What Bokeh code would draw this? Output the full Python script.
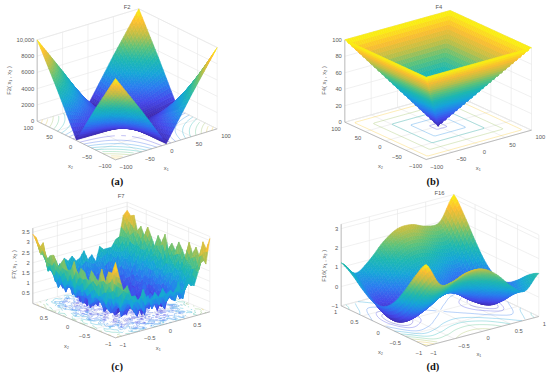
import numpy as np
from bokeh.core.properties import value
from bokeh.embed import file_html
from bokeh.layouts import column, row
from bokeh.models import Range1d
from bokeh.plotting import figure
from bokeh.resources import INLINE

# all surface tables: one row per x1 value, one column per x2 value
f2_x1 = [-100, -50, 0, 50, 100]
f2_x2 = [-100, -50, 0, 50, 100]
f2_z = [
    [10000, 5200, 100, 5200, 10000],
    [5200, 2600, 50, 2600, 5200],
    [100, 50, 0, 50, 100],
    [5200, 2600, 50, 2600, 5200],
    [10000, 5200, 100, 5200, 10000],
]
f4_x1 = [-100, 0, 100]
f4_x2 = [-100, 0, 100]
f4_z = [
    [100, 100, 100],
    [100, 0, 100],
    [100, 100, 100],
]
f16_x1 = [-1, -0.75, -0.5, -0.25, 0, 0.25, 0.5, 0.75, 1]
f16_x2 = [-1, -0.75, -0.5, -0.25, 0, 0.25, 0.5, 0.75, 1]
f16_z = [
    [3.23, 2.39, 1.37, 0.49, 0.00, -0.01, 0.37, 0.89, 1.23],
    [2.00, 1.22, 0.26, -0.55, -0.98, -0.93, -0.49, 0.10, 0.50],
    [1.98, 1.27, 0.37, -0.39, -0.75, -0.63, -0.13, 0.52, 0.98],
    [2.25, 1.60, 0.77, 0.07, -0.23, -0.05, 0.52, 1.22, 1.75],
    [2.23, 1.64, 0.87, 0.24, 0.00, 0.24, 0.87, 1.64, 2.23],
    [1.75, 1.22, 0.52, -0.05, -0.23, 0.07, 0.77, 1.60, 2.25],
    [0.98, 0.52, -0.13, -0.63, -0.75, -0.39, 0.37, 1.27, 1.98],
    [0.50, 0.10, -0.49, -0.93, -0.98, -0.55, 0.26, 1.22, 2.00],
    [1.23, 0.89, 0.37, -0.01, 0.00, 0.49, 1.37, 2.39, 3.23],
]
f7_x1_lim = (-1, 0.92)
f7_x2_lim = (-1, 0.95)
f7_z = [
    [3.7,3.1,3.1,2.5,3.1,2.4,2.6,2.8,2.1,2.6,2.7,2.2,2.9,2.4,2.3,2.8,2.5,2.1,2.8,2.7,2.4,3.2,2.9,3.3,3.4],
    [2.9,2.9,2.1,2.3,1.9,2.4,1.6,1.8,2.1,1.9,1.6,2.2,2.0,1.5,2.3,1.7,2.1,1.8,2.3,1.7,2.1,2.0,2.8,2.5,3.0],
    [2.2,2.3,2.3,1.6,1.9,1.2,1.5,1.8,1.4,1.2,1.9,1.6,1.3,1.7,1.1,1.8,1.5,1.2,1.6,2.0,1.5,2.0,1.8,2.5,2.3],
    [2.4,1.7,1.2,1.7,1.2,1.6,.9,1.3,1.1,1.4,.9,.7,1.5,1.0,1.3,.8,1.2,1.5,1.0,1.3,.9,1.8,1.7,1.5,2.3],
    [1.8,2.0,1.5,.9,1.4,1.0,.6,1.1,.7,1.3,1.0,.6,.8,1.2,.5,.9,1.3,.7,1.2,.7,1.4,1.1,1.0,1.7,1.9],
    [1.8,1.1,1.5,1.1,.5,1.3,.6,.7,.9,.4,1.0,.7,.8,.3,1.1,.5,.4,1.0,.7,1.2,.9,.7,1.5,1.2,1.9],
    [1.4,1.5,1.0,1.3,.9,.4,1.0,.3,.6,.8,.3,1.0,.4,.7,.9,.2,.5,1.1,.4,.7,1.0,.7,1.2,1.7,1.3],
    [2.0,1.2,.6,1.0,1.1,.5,.6,1.0,.3,.7,.5,.2,.9,.6,.3,1.0,.8,.4,.7,.3,1.1,.9,.7,1.5,1.5],
    [1.5,.8,1.2,.7,1.1,.8,.3,.5,.8,.1,.5,.7,.2,.9,.4,.6,.1,.8,.4,.8,.4,1.0,1.4,1.1,1.8],
    [1.2,1.5,.9,1.0,.3,.6,1.0,.3,.6,.2,.8,.1,.5,.7,.3,.9,.4,.2,.7,.9,.3,.8,.8,1.6,1.6],
    [1.7,1.0,1.4,.4,.8,.9,.3,.5,.4,.9,.3,.6,.1,.4,.8,.2,.7,.5,.2,.7,1.1,.5,1.0,1.0,1.8],
    [1.4,1.3,.7,1.1,.7,.2,.8,.9,.3,.4,.6,.2,.9,.1,.5,.7,.3,.8,.5,.3,.8,1.2,.6,1.4,1.5],
    [1.8,.9,1.0,1.2,.5,.8,.2,.6,.4,.8,.2,.5,.7,.3,.9,.1,.6,.4,.8,.4,.7,.4,1.3,.9,1.6],
    [1.1,1.6,1.1,.6,.9,.5,.9,.2,.5,.1,.9,.4,.6,.8,.2,.5,.3,.9,.2,.8,.6,1.1,1.1,1.0,1.9],
    [1.6,1.2,.6,1.1,.4,1.0,.5,.7,.3,.6,.1,.9,.5,.2,.7,.4,.8,.1,.7,.4,1.1,.5,1.2,1.2,1.4],
    [1.3,1.4,1.3,.5,.7,.2,.7,.9,.4,.3,.7,.2,.8,.5,.1,.6,.9,.3,.5,.8,.4,1.1,1.0,.8,1.6],
    [1.9,.9,.9,1.1,.3,.9,.4,.6,.6,.9,.2,.7,.4,.1,.8,.3,.5,.7,1.0,.4,1.0,.7,1.3,1.3,1.2],
    [1.3,1.4,1.4,.8,1.0,.5,.2,.9,.6,.3,.7,1.0,.4,.8,.5,.2,.9,.3,.6,1.1,.6,1.0,.6,1.5,1.9],
    [1.8,.9,.9,1.2,.8,1.1,.8,.4,.5,.8,.2,.4,.9,.6,.7,1.0,.3,.6,.9,.3,1.2,.9,.9,1.6,1.7],
    [1.6,1.7,1.2,.7,1.3,.6,1.0,.9,.5,1.0,.6,.8,.3,1.1,.5,.9,.7,.5,1.1,.9,.5,1.5,1.1,1.1,1.7],
    [1.5,1.7,1.8,1.0,1.3,.9,1.3,.6,1.0,.5,1.3,.7,1.1,.6,.9,1.2,.7,1.3,.6,1.1,1.4,1.1,1.6,1.6,1.7],
    [2.1,2.2,1.3,1.6,1.2,1.6,1.1,.8,1.5,1.2,.9,1.4,1.1,1.3,.7,1.0,1.5,1.3,1.0,1.6,1.1,1.7,1.6,2.2,2.0],
    [2.8,2.1,2.1,1.4,1.8,2.0,1.3,1.5,1.2,1.8,1.6,1.1,1.9,1.3,1.7,1.5,1.2,1.8,1.4,2.0,1.8,1.5,2.2,2.2,2.1],
    [2.4,2.8,2.0,2.6,2.0,2.1,2.3,1.6,2.1,1.7,1.9,2.3,1.5,2.0,2.2,1.8,1.6,2.1,2.4,1.8,2.1,2.5,2.3,2.7,3.1],
    [3.6,3.0,3.3,2.5,2.9,2.5,3.0,2.1,2.5,2.8,2.3,2.6,2.2,2.9,2.4,2.7,2.1,2.5,2.9,2.4,2.8,2.5,3.2,3.1,3.3],
]

xt_100 = [-100, -50, 0, 50, 100]
xl_100 = ["\u2212100", "\u221250", "0", "50", "100"]
xt_1 = [-1, -0.5, 0, 0.5, 1]
xl_1 = ["\u22121", "\u22120.5", "0", "0.5", "1"]
zt_f2 = [0, 2000, 4000, 6000, 8000, 10000]
zl_f2 = ["0", "2000", "4000", "6000", "8000", "10,000"]
zt_f4 = [0, 20, 40, 60, 80, 100]
zl_f4 = ["0", "20", "40", "60", "80", "100"]
zt_f7 = [0.5, 1, 1.5, 2, 2.5, 3, 3.5]
zl_f7 = ["0.5", "1", "1.5", "2", "2.5", "3", "3.5"]
zt_f16 = [-1, 0, 1, 2, 3]
zl_f16 = ["\u22121", "0", "1", "2", "3"]

lv_f2 = [1000, 2000, 3000, 4000, 5000, 6000, 7000, 8000, 9000]
lv_f4 = [10, 20, 30, 40, 50, 60, 70, 80, 90]
lv_f7 = [0.15, 0.3, 0.45, 0.6, 0.75, 0.9, 1.05, 1.2, 1.5, 2, 2.5, 3]
lv_f16 = [-0.75, -0.5, 0, 0.5, 1, 1.5, 2, 2.5, 3]

PARULA = ["#3e26a8", "#4548ea", "#2a7cf0", "#16a6d8", "#1eb8b0",
          "#5cc27a", "#c0bf45", "#fdbe30", "#f9f50f"]
_rgb = np.array([[int(c[i:i + 2], 16) for i in (1, 3, 5)] for c in PARULA], float)


def cmap(t):
    t = np.clip(np.asarray(t, float), 0, 1) * (len(PARULA) - 1)
    return ["#%02x%02x%02x" % tuple(
        int(round(np.interp(v, range(len(PARULA)), _rgb[:, k]))) for k in range(3))
        for v in np.ravel(t)]


def catmull(z, n):
    m = z.shape[0]
    out = []
    for i in range(m - 1):
        p0, p1, p2, p3 = z[max(i - 1, 0)], z[i], z[i + 1], z[min(i + 2, m - 1)]
        for k in range(n):
            t = k / n
            out.append(0.5 * (2 * p1 + (p2 - p0) * t + (2 * p0 - 5 * p1 + 4 * p2 - p3) * t ** 2
                              + (3 * p1 - p0 - 3 * p2 + p3) * t ** 3))
    out.append(z[-1])
    return np.array(out)


def bilinear(z, n):
    def along(a):
        m = a.shape[0]
        pos = np.linspace(0, m - 1, (m - 1) * n + 1)
        i = np.minimum(pos.astype(int), m - 2)
        f = (pos - i)[(...,) + (None,) * (a.ndim - 1)]
        return a[i] * (1 - f) + a[i + 1] * f
    return along(along(z).T).T


def fan(z, n):
    # pyramid faces: each quarter is two flat triangles meeting on the diagonal
    c = z[1, 1]
    N = 2 * n + 1
    out = np.zeros((N, N))
    for i in range(N):
        for j in range(N):
            a, b = (i - n) / n, (j - n) / n
            si, sj = 1 if a >= 0 else -1, 1 if b >= 0 else -1
            z10, z01, z11 = z[1 + si, 1], z[1, 1 + sj], z[1 + si, 1 + sj]
            a, b = abs(a), abs(b)
            if a >= b:
                out[i, j] = c + a * (z10 - c) + b * (z11 - z10)
            else:
                out[i, j] = c + b * (z01 - c) + a * (z11 - z01)
    return out


def contour_segments(Z, levels):
    """Marching squares on the fine mesh: returns cell-index coordinates."""
    out = []
    for lv in levels:
        segs = []
        for i in range(Z.shape[0] - 1):
            for j in range(Z.shape[1] - 1):
                a, b, c, d = Z[i, j], Z[i + 1, j], Z[i + 1, j + 1], Z[i, j + 1]
                pts = []
                if (a - lv) * (b - lv) < 0:
                    pts.append((i + (lv - a) / (b - a), j))
                if (b - lv) * (c - lv) < 0:
                    pts.append((i + 1, j + (lv - b) / (c - b)))
                if (d - lv) * (c - lv) < 0:
                    pts.append((i + (lv - d) / (c - d), j + 1))
                if (a - lv) * (d - lv) < 0:
                    pts.append((i, j + (lv - a) / (d - a)))
                for k in range(0, len(pts) - 1, 2):
                    segs.append((pts[k], pts[k + 1]))
        out.append((lv, segs))
    return out


TXT = "#595959"
GRID = "#e6e6e6"
AX = "#999999"
FONT = value("Liberation Sans")


def panel(ox, oy, w, h, L, F, R, zh, x1r, x2r, zr, x1g, x2g, z, mode, sub, crange,
          levels, xt, xl, yt, yl, zt, zl, name, title, tpos, zpos, x1pos, x2pos, cap, cpos):
    L, F, R = [np.array([ox + a / 3, oy + b / 3]) for a, b in (L, F, R)]
    zh = zh / 3
    a_, b_ = R - F, L - F
    n = np.cross([a_[0], b_[0], 0], [a_[1], b_[1], -zh])
    if n[2] < 0:
        n = -n

    def pr(x1, x2, zz):
        u = (np.asarray(x1, float) - x1r[0]) / (x1r[1] - x1r[0])
        v = (np.asarray(x2, float) - x2r[0]) / (x2r[1] - x2r[0])
        t = (np.asarray(zz, float) - zr[0]) / (zr[1] - zr[0])
        return F[0] + u * a_[0] + v * b_[0], F[1] + u * a_[1] + v * b_[1] - t * zh, \
            n[0] * u + n[1] * v + n[2] * t

    p = figure(width=w, height=h, output_backend="svg", toolbar_location=None,
               x_range=Range1d(ox, ox + w), y_range=Range1d(oy + h, oy),
               x_axis_location=None, y_axis_location=None, min_border=0,
               outline_line_color=None, background_fill_color="white", border_fill_color="white")
    p.grid.visible = False

    # back walls and floor grid
    gx0, gy0, gx1, gy1 = [], [], [], []

    def add(a, b):
        pa, pb = pr(*a), pr(*b)
        gx0.append(float(pa[0])); gy0.append(float(pa[1])); gx1.append(float(pb[0])); gy1.append(float(pb[1]))

    for t in list(xt) + [x1r[1]]:
        if x1r[0] <= t <= x1r[1]:
            add((t, x2r[0], zr[0]), (t, x2r[1], zr[0]))
            add((t, x2r[1], zr[0]), (t, x2r[1], zr[1]))
    for t in list(yt) + [x2r[1]]:
        if x2r[0] <= t <= x2r[1]:
            add((x1r[0], t, zr[0]), (x1r[1], t, zr[0]))
            add((x1r[1], t, zr[0]), (x1r[1], t, zr[1]))
    for t in list(zt) + [zr[1]]:
        add((x1r[0], x2r[1], t), (x1r[1], x2r[1], t))
        add((x1r[1], x2r[1], t), (x1r[1], x2r[0], t))
    p.segment(gx0, gy0, gx1, gy1, line_color=GRID, line_width=0.6)

    # mesh
    z = np.array(z, float)
    if mode == "fan":
        Z = fan(z, sub)
    elif mode == "cubic":
        Z = catmull(catmull(z, sub).T, sub).T
    else:
        Z = bilinear(z, sub)
    X1 = np.interp(np.linspace(0, len(x1g) - 1, Z.shape[0]), range(len(x1g)), x1g)
    X2 = np.interp(np.linspace(0, len(x2g) - 1, Z.shape[1]), range(len(x2g)), x2g)
    A, B = np.meshgrid(X1, X2, indexing="ij")

    # floor contours
    cx0, cy0, cx1, cy1, cc = [], [], [], [], []
    for lv, segs in contour_segments(Z, levels):
        col = cmap((lv - crange[0]) / (crange[1] - crange[0]))[0]
        for (p0, p1) in segs:
            s0 = pr(np.interp(p0[0], range(len(X1)), X1), np.interp(p0[1], range(len(X2)), X2), zr[0])
            s1 = pr(np.interp(p1[0], range(len(X1)), X1), np.interp(p1[1], range(len(X2)), X2), zr[0])
            cx0.append(float(s0[0])); cy0.append(float(s0[1])); cx1.append(float(s1[0])); cy1.append(float(s1[1]))
            cc.append(col)
    p.segment(cx0, cy0, cx1, cy1, line_color=cc, line_width=0.45, line_alpha=0.75)

    # axes
    for a, b in (((x1r[0], x2r[1], zr[0]), (x1r[0], x2r[0], zr[0])),
                 ((x1r[0], x2r[0], zr[0]), (x1r[1], x2r[0], zr[0])),
                 ((x1r[0], x2r[1], zr[0]), (x1r[0], x2r[1], zr[1]))):
        pa, pb = pr(*a), pr(*b)
        p.line([float(pa[0]), float(pb[0])], [float(pa[1]), float(pb[1])], line_color=AX, line_width=0.6)

    # surface, far quads first
    SX, SY, D = pr(A, B, Z)
    xs, ys, zm, dm = [], [], [], []
    for i in range(Z.shape[0] - 1):
        for j in range(Z.shape[1] - 1):
            idx = [(i, j), (i + 1, j), (i + 1, j + 1), (i, j + 1)]
            xs.append([float(SX[q]) for q in idx])
            ys.append([float(SY[q]) for q in idx])
            zm.append(np.mean([Z[q] for q in idx]))
            dm.append(np.mean([D[q] for q in idx]))
    order = np.argsort(dm)
    cols = cmap((np.array(zm) - crange[0]) / (crange[1] - crange[0]))
    p.patches([xs[k] for k in order], [ys[k] for k in order],
              fill_color=[cols[k] for k in order], line_color=[cols[k] for k in order], line_width=0.6)

    # texts
    tx, ty, tt = [], [], []
    for t, lab in zip(xt, xl):
        s = pr(t, x2r[0], zr[0])
        tx.append(float(s[0]) + 4); ty.append(float(s[1]) + 7); tt.append(lab)
    p.text(tx, ty, text=tt, text_font=FONT, text_font_size="5.8px", text_color=TXT,
           text_align="left", text_baseline="middle")
    tx, ty, tt = [], [], []
    for t, lab in zip(yt, yl):
        s = pr(x1r[0], t, zr[0])
        tx.append(float(s[0]) - 4); ty.append(float(s[1]) + 6.5); tt.append(lab)
    p.text(tx, ty, text=tt, text_font=FONT, text_font_size="5.8px", text_color=TXT,
           text_align="right", text_baseline="middle")
    zx, zy = [], []
    for t in zt:
        s = pr(x1r[0], x2r[1], t)
        zx.append(float(s[0]) - 3); zy.append(float(s[1]))
    p.text(zx, zy, text=zl, text_font=FONT, text_font_size="5.8px", text_color=TXT,
           text_align="right", text_baseline="middle")

    def lab(pos, s, size="5.8px", font=FONT, color=TXT, angle=0.0, style="normal"):
        p.text([ox + pos[0] / 3], [oy + pos[1] / 3], text=[s], text_font=font, text_font_size=size,
               text_color=color, angle=angle, text_align="center", text_baseline="middle",
               text_font_style=style)

    lab(tpos, title)
    lab(zpos, name + "( x\u2081 , x\u2082 )", angle=np.pi / 2)
    lab(x1pos, "x\u2081")
    lab(x2pos, "x\u2082")
    lab(cpos, cap, size="10.5px", font=value("Liberation Serif"), color="#111111", style="bold")
    return p


lim100 = (-100, 100)
lim1 = (-1, 1)
pa = panel(0, 0, 275, 188, (110, 362), (345, 478), (650, 385), 244, lim100, lim100, (0, 10000),
           f2_x1, f2_x2, f2_z, "bilinear", 12, (0, 10000), lv_f2, xt_100, xl_100, xt_100, xl_100,
           zt_f2, zl_f2, "F2", "F2", (380, 20), (25, 240), (497, 503), (210, 497), "(a)", (350, 542))
pb = panel(275, 0, 275, 188, (208, 365), (452, 477), (768, 389), 247, lim100, lim100, (0, 100),
           f4_x1, f4_x2, f4_z, "fan", 25, (0, 100), lv_f4, xt_100, xl_100, xt_100, xl_100,
           zt_f4, zl_f4, "F4", "F4", (490, 20), (145, 240), (608, 503), (315, 497), "(b)", (472, 542))
x1g7 = np.linspace(f7_x1_lim[0], f7_x1_lim[1], 25)
x2g7 = np.linspace(f7_x2_lim[0], f7_x2_lim[1], 25)
pc = panel(0, 188, 275, 189, (97, 345), (345, 448), (628, 370), 226, f7_x1_lim, f7_x2_lim, (0, 3.7),
           x1g7, x2g7, f7_z, "bilinear", 2, (0.05, 3.7), lv_f7, xt_1[:-1], xl_1[:-1], xt_1[:-1], xl_1[:-1],
           zt_f7, zl_f7, "F7", "F7", (362, 22), (40, 228), (473, 478), (198, 472), "(c)", (350, 535))
pd = panel(275, 188, 275, 189, (197, 352), (452, 473), (790, 384), 245, lim1, lim1, (-1, 3.23),
           f16_x1, f16_x2, f16_z, "cubic", 6, (-1.03, 3.23), lv_f16, xt_1, xl_1, xt_1, xl_1,
           zt_f16, zl_f16, "F16", "F16", (492, 12), (145, 232), (610, 497), (315, 490), "(d)", (472, 535))

page = column(row(pa, pb), row(pc, pd))
open("out.html", "w").write(file_html(page, INLINE))
